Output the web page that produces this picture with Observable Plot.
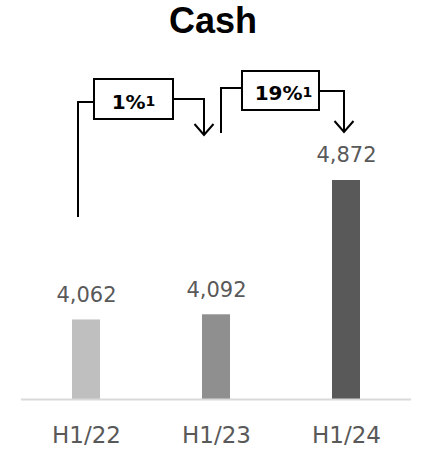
<!DOCTYPE html>
<html>
<head>
<meta charset="utf-8">
<script src="https://cdn.jsdelivr.net/npm/d3@7"></script>
<script src="https://cdn.jsdelivr.net/npm/@observablehq/plot@0.6"></script>
<style>
  body { margin: 0; background: #fff; }
  #title { width: 426px; height: 52px; line-height: 47px; text-align: center;
           font: bold 36px "Liberation Sans", Arial, sans-serif; color: #000; }
</style>
</head>
<body>
<div id="chart">
  <div id="title">Cash</div>
</div>
<script>
// ---- data ----
const categories = ["H1/22", "H1/23", "H1/24"];
const cashValues = [4062, 4092, 4872];
const barColors = ["#BFBFBF", "#8F8F8F", "#595959"];
const growthFrom = ["H1/22", "H1/23"];
const growthTo = ["H1/23", "H1/24"];
const growthLabels = ["1%", "19%"];
const growthFootnotes = ["1", "1"];
const yFloor = 3600; // truncated value axis starts here

const rows = categories.map((c, i) => ({category: c, value: cashValues[i], color: barColors[i]}));
const fmt = d3.format(",");

// ---- annotation drawing (pixel layout offsets relative to band centres) ----
const bracketLayout = [
  {startDx: -8, startBottom: 165, startTop: 50, boxDx: 8, boxW: 79, boxTop: 27, boxH: 40, textDx: 0, arrowY: 47, arrowDx: -12, tip: 83},
  {startDx: 5, startBottom: 81, startTop: 36, boxDx: 26, boxW: 77, boxTop: 19, boxH: 39, textDx: 3, arrowY: 39, arrowDx: -2, tip: 80}
];

function growthBrackets(index, scales, values, dims, context) {
  const x = scales.x;
  const bw = typeof x.bandwidth === "function" ? x.bandwidth() : 0;
  const cx = c => x(c) + bw / 2;
  const doc = context && context.document ? context.document : document;
  const g = d3.select(doc.createElementNS("http://www.w3.org/2000/svg", "g"))
    .attr("fill", "none").attr("stroke", "#000").attr("stroke-width", 2)
    .attr("stroke-linejoin", "miter");
  growthFrom.forEach((from, i) => {
    const L = bracketLayout[i];
    const x0 = cx(from) + L.startDx;
    const x1 = cx(growthTo[i]) + L.arrowDx;
    const bx = cx(from) + L.boxDx;
    g.append("path").attr("d", `M${x0},${L.startBottom}V${L.startTop}H${bx}`);
    g.append("rect").attr("x", bx).attr("y", L.boxTop).attr("width", L.boxW).attr("height", L.boxH)
      .attr("fill", "#fff");
    g.append("path").attr("d", `M${bx + L.boxW},${L.arrowY}H${x1}V${L.tip}`);
    g.append("path").attr("d", `M${x1 - 9.5},${L.tip - 11}L${x1},${L.tip}L${x1 + 9.5},${L.tip - 11}`);
    const t = g.append("text")
      .attr("x", bx + L.boxW / 2 + L.textDx)
      .attr("y", L.boxTop + L.boxH / 2 + 9.5)
      .attr("text-anchor", "middle")
      .attr("fill", "#000").attr("stroke", "none")
      .attr("font-family", "'DejaVu Sans', sans-serif").attr("font-weight", "bold")
      .attr("font-size", 20);
    t.append("tspan").text(growthLabels[i]);
    t.append("tspan").attr("dy", -3).attr("font-size", 14).text(growthFootnotes[i]);
  });
  return g.node();
}

const chart = Plot.plot({
  width: 426,
  height: 399,
  marginTop: 128,
  marginBottom: 52,
  marginLeft: 21,
  marginRight: 15,
  style: {fontFamily: "'DejaVu Sans', sans-serif", background: "#fff", overflow: "visible"},
  x: {domain: categories, paddingInner: 0.785, paddingOuter: 0.3925},
  y: {domain: [yFloor, d3.max(cashValues)], axis: null},
  color: {type: "identity"},
  marks: [
    Plot.barY(rows, {x: "category", y1: () => yFloor, y2: "value", fill: "color"}),
    Plot.ruleY([yFloor], {stroke: "#D9D9D9", strokeWidth: 2}),
    Plot.text(rows, {x: "category", y: "value", text: d => fmt(d.value), dy: -25,
                     fontSize: 21, fill: "#595959", lineAnchor: "middle"}),
    Plot.axisX({tickSize: 0, tickPadding: 27, fontSize: 23, color: "#595959", label: null}),
    growthBrackets
  ]
});
document.getElementById("chart").appendChild(chart);
</script>
</body>
</html>
